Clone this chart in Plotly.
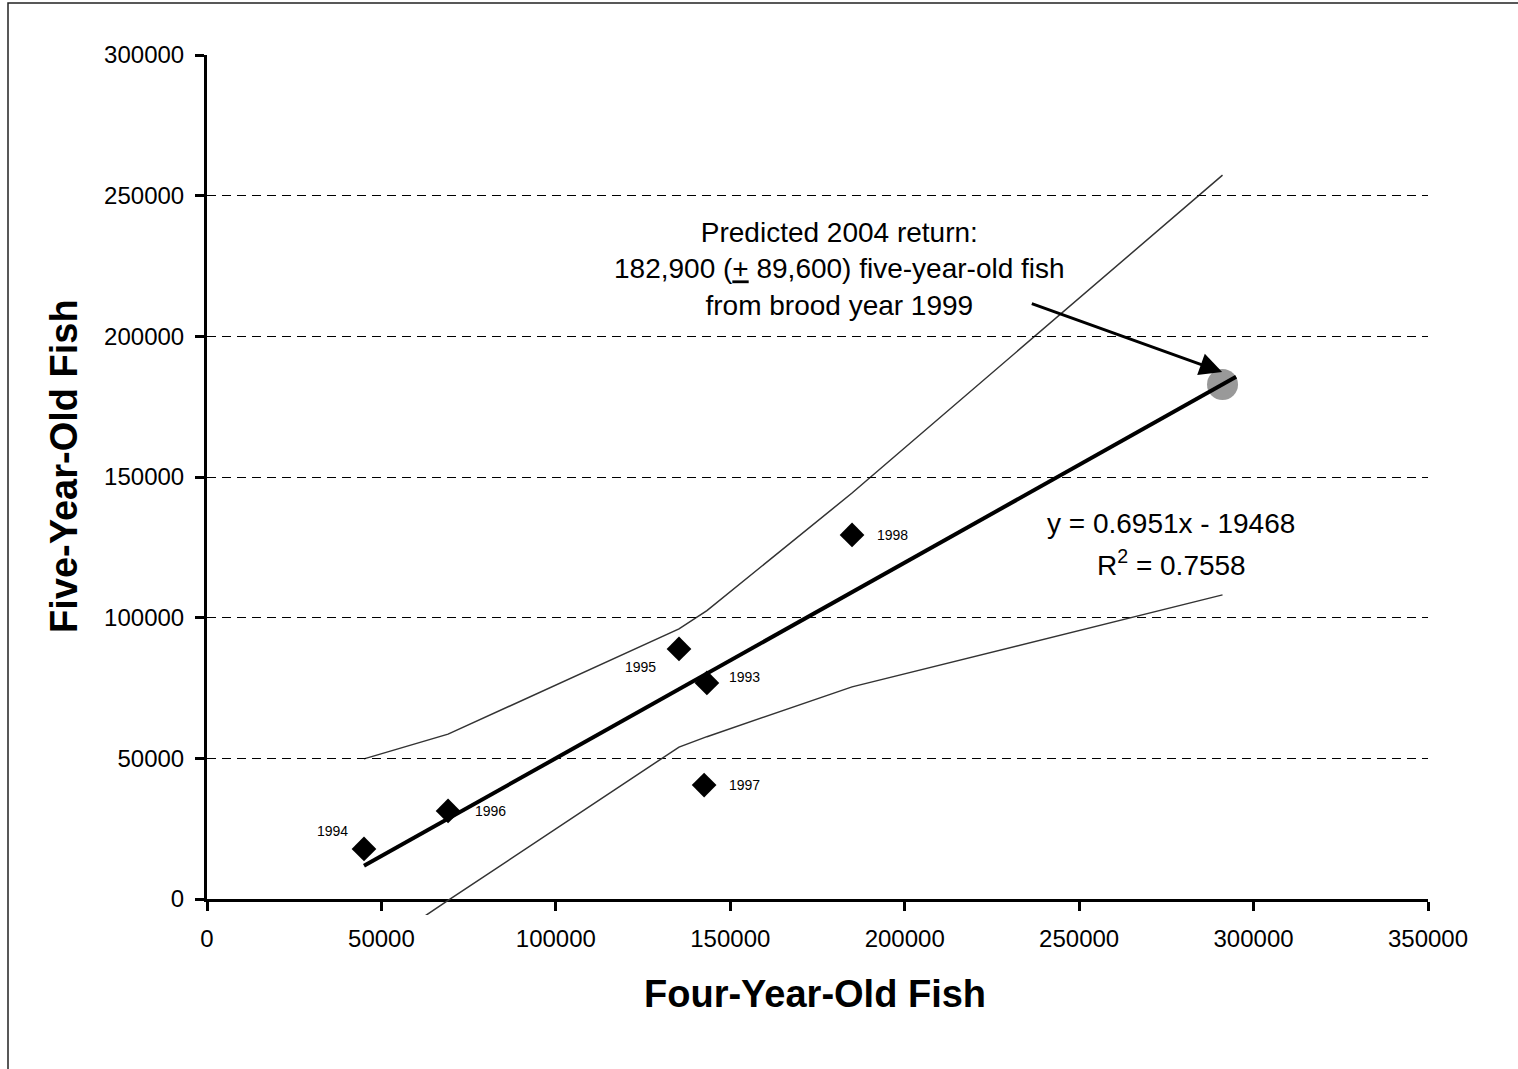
import plotly.graph_objects as go

# ---- data ----
years = ["1993", "1994", "1995", "1996", "1997", "1998"]
four_year = [143300, 45000, 135300, 69100, 142500, 184900]
five_year = [76800, 17800, 88900, 31300, 40500, 129400]

pred_x = [291100]
pred_y = [182900]

trend_x = [45000, 295000]
trend_y = [11800, 185600]

band_x = [45000, 69100, 135300, 142500, 143300, 184900, 291100]
upper_y = [49800, 58600, 96000, 101900, 102500, 144300, 257300]
lower_y = [-20600, -500, 54000, 57300, 57700, 75400, 108100]

x_ticks = [0, 50000, 100000, 150000, 200000, 250000, 300000, 350000]
x_ticklabels = ["0", "50000", "100000", "150000", "200000", "250000", "300000", "350000"]
y_ticks = [0, 50000, 100000, 150000, 200000, 250000, 300000]
y_ticklabels = ["0", "50000", "100000", "150000", "200000", "250000", "300000"]
grid_vals = [50000, 100000, 150000, 200000, 250000]

x_title = "Four-Year-Old Fish"
y_title = "Five-Year-Old Fish"
pred_text = "Predicted 2004 return:<br>182,900 (<u>+</u> 89,600) five-year-old fish<br>from brood year 1999"
eq_text = "y = 0.6951x - 19468"
r2_text = "R<sup>2</sup> = 0.7558"

# ---- layout geometry ----
W, H = 1518, 1069
ML, MR, MT, MB = 207, 90, 55, 154
plot_h = H - MT - MB          # 860
pw = W - ML - MR
ext_px = 16                    # lower band allowed to extend below the x axis
d = ext_px / plot_h
y_per_px = 300000 / (plot_h - ext_px)
ymin_ext = -ext_px * y_per_px

FONT = "Liberation Sans, Arial, sans-serif"
label_offsets = {  # px offsets of labels from their point (dx, dy up positive)
    "1993": (20, 6, "left"),
    "1994": (-14, 18, "right"),
    "1995": (-21, -18, "right"),
    "1996": (25, 0, "left"),
    "1997": (23, 0, "left"),
    "1998": (23, 0, "left"),
}

fig = go.Figure()

# lower prediction band on an extended axis pair (that pair also carries the dashed grid)
fig.add_trace(go.Scatter(x=band_x, y=lower_y, mode="lines", xaxis="x2", yaxis="y4",
                         line=dict(color="#333333", width=1.5), hoverinfo="skip"))
# upper prediction band
fig.add_trace(go.Scatter(x=band_x, y=upper_y, mode="lines",
                         line=dict(color="#333333", width=1.5), hoverinfo="skip"))
# predicted point
fig.add_trace(go.Scatter(x=pred_x, y=pred_y, mode="markers",
                         marker=dict(symbol="circle", size=31, color="#999999", line=dict(width=0))))
# regression line
fig.add_trace(go.Scatter(x=trend_x, y=trend_y, mode="lines",
                         line=dict(color="black", width=4)))
# observations
fig.add_trace(go.Scatter(x=four_year, y=five_year, mode="markers",
                         marker=dict(symbol="diamond", size=19, color="black", line=dict(width=0))))

annotations = []
for yr, xv, yv in zip(years, four_year, five_year):
    dx, dy, anchor = label_offsets[yr]
    annotations.append(dict(x=xv, y=yv, xref="x", yref="y", text=yr, showarrow=False,
                            xanchor=anchor, yanchor="middle", xshift=dx, yshift=dy,
                            font=dict(family=FONT, size=14, color="black")))

annotations += [
    dict(x=181200, y=223900, xref="x", yref="y", text=pred_text, showarrow=False,
         xanchor="center", yanchor="middle", align="center",
         font=dict(family=FONT, size=28, color="black")),
    dict(x=276400, y=133300, xref="x", yref="y", text=eq_text, showarrow=False,
         xanchor="center", yanchor="middle",
         font=dict(family=FONT, size=28, color="black")),
    dict(x=276400, y=119500, xref="x", yref="y", text=r2_text, showarrow=False,
         xanchor="center", yanchor="middle",
         font=dict(family=FONT, size=28, color="black")),
    # arrow
    dict(x=291000, y=187300, xref="x", yref="y", ax=236000, ay=211800, axref="x", ayref="y",
         text="", showarrow=True, arrowhead=2, arrowsize=1.5, arrowwidth=3,
         arrowcolor="black", standoff=0, startstandoff=0),
    # axis titles
    dict(x=(815 - ML) / pw, y=(H - MB - 994) / plot_h, xref="paper", yref="paper",
         text=f"<b>{x_title}</b>", showarrow=False, xanchor="center", yanchor="middle",
         font=dict(family=FONT, size=38, color="black")),
    dict(x=(64 - ML) / pw, y=(H - MB - 466) / plot_h, xref="paper", yref="paper",
         text=f"<b>{y_title}</b>", showarrow=False, xanchor="center", yanchor="middle",
         textangle=-90, font=dict(family=FONT, size=38, color="black")),
]

shapes = [
    dict(type="rect", xref="paper", yref="paper",
         x0=(8 - ML) / pw, x1=(1540 - ML) / pw,
         y0=(H - MB - 1100) / plot_h, y1=(H - MB - 3) / plot_h,
         line=dict(color="#222222", width=1.5), fillcolor="rgba(0,0,0,0)", layer="below"),
]

tickfont = dict(family=FONT, size=24, color="black")
fig.update_layout(
    width=W, height=H,
    margin=dict(l=ML, r=MR, t=MT, b=MB, pad=0),
    paper_bgcolor="white", plot_bgcolor="rgba(0,0,0,0)",
    showlegend=False,
    xaxis=dict(range=[0, 350000], tickvals=x_ticks, ticktext=x_ticklabels,
               showgrid=False, zeroline=False, showline=True, linecolor="black", linewidth=3,
               ticks="outside", ticklen=9, tickwidth=3, tickcolor="black",
               tickfont=tickfont, ticklabelstandoff=7, anchor="y"),
    yaxis=dict(range=[0, 300000], domain=[d, 1], tickvals=y_ticks, ticktext=y_ticklabels,
               showgrid=False, zeroline=False, showline=True, linecolor="black", linewidth=3,
               ticks="outside", ticklen=9, tickwidth=3, tickcolor="black",
               tickfont=tickfont, ticklabelstandoff=6, anchor="x"),
    xaxis2=dict(range=[0, 350000], domain=[0, 1], showgrid=False, showticklabels=False,
                ticks="", showline=False, zeroline=False, anchor="y4"),
    yaxis4=dict(range=[ymin_ext, 300000], domain=[0, 1], tickvals=grid_vals, showgrid=True,
                gridcolor="black", gridwidth=1, griddash="9px,6px", showticklabels=False,
                ticks="", showline=False, zeroline=False, anchor="x2"),
    annotations=annotations,
    shapes=shapes,
)

fig.write_html("out.html")
